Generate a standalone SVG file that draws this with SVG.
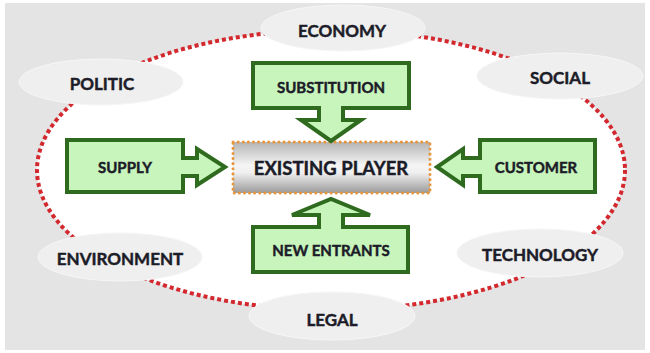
<svg xmlns="http://www.w3.org/2000/svg" width="650" height="353" viewBox="0 0 650 353">
<defs>
<style>
.lbl{font-family:Lato,"Liberation Sans",sans-serif;font-weight:bold;fill:#1c1c28;stroke:#1c1c28;stroke-width:0.45;text-anchor:middle;dominant-baseline:central}
.oval{fill:#efefef;stroke:#f6f6f6;stroke-width:1}
.callout{fill:#c8f5bc;stroke:#2f6b1f;stroke-width:4;stroke-linejoin:miter}
</style>
<linearGradient id="silver" x1="0" y1="0" x2="0" y2="1">
<stop offset="0" stop-color="#b4b4b4"/>
<stop offset="0.45" stop-color="#f4f4f4"/>
<stop offset="0.6" stop-color="#f0f0f0"/>
<stop offset="1" stop-color="#9a9a9a"/>
</linearGradient>
</defs>
<rect x="0" y="0" width="650" height="353" fill="#ffffff"/>
<rect x="5" y="3" width="640" height="347" fill="#e4e4e4"/>
<ellipse cx="331" cy="170" rx="294" ry="140" fill="#ffffff"/>
<g id="connectors">
<ellipse cx="331" cy="170" rx="294" ry="140" fill="none" stroke="#d2282e" stroke-width="4" stroke-dasharray="4 3"/>
</g>
<g id="economy"><ellipse class="oval" cx="343" cy="28" rx="82" ry="23"/><text class="lbl" x="342" y="30" font-size="17">ECONOMY</text></g>
<g id="politic"><ellipse class="oval" cx="101" cy="82" rx="82" ry="23"/><text class="lbl" x="102" y="83" font-size="17">POLITIC</text></g>
<g id="social"><ellipse class="oval" cx="560" cy="76" rx="83" ry="23"/><text class="lbl" x="560" y="77" font-size="17">SOCIAL</text></g>
<g id="environment"><ellipse class="oval" cx="120" cy="257" rx="82" ry="24"/><text class="lbl" x="120" y="258" font-size="17">ENVIRONMENT</text></g>
<g id="technology"><ellipse class="oval" cx="540" cy="253" rx="83" ry="24"/><text class="lbl" x="540" y="254" font-size="17">TECHNOLOGY</text></g>
<g id="legal"><ellipse class="oval" cx="332" cy="316" rx="83" ry="24"/><text class="lbl" x="332" y="319" font-size="17">LEGAL</text></g>
<g id="existing-player">
<rect x="233" y="142" width="197" height="51" fill="url(#silver)" stroke="#e8963c" stroke-width="3" stroke-dasharray="0.1 5" stroke-linecap="round"/>
<text class="lbl" x="331" y="168" font-size="18.5">EXISTING PLAYER</text>
</g>
<g id="substitution">
<path class="callout" d="M253,63 H409 V108 H343 V120 H361 L331,141 L301,120 H319 V108 H253 Z"/>
<text class="lbl" x="331" y="87" font-size="15">SUBSTITUTION</text>
</g>
<g id="supply">
<path class="callout" d="M67,140 H183 V158 H197 V149 L225,167 L197,185 V176 H183 V192 H67 Z"/>
<text class="lbl" x="125" y="167" font-size="15">SUPPLY</text>
</g>
<g id="customer">
<path class="callout" d="M595,140 H480 V158 H463 V149 L437,167 L463,185 V176 H480 V192 H595 Z"/>
<text class="lbl" x="536" y="167" font-size="15">CUSTOMER</text>
</g>
<g id="new-entrants">
<path class="callout" d="M253,272 H408 V227 H343 V215 H370 L331,199 L292,215 H319 V227 H253 Z"/>
<text class="lbl" x="331" y="250" font-size="15">NEW ENTRANTS</text>
</g>
</svg>
